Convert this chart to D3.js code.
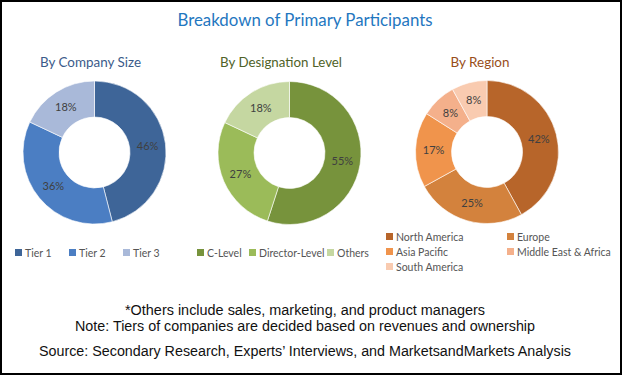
<!DOCTYPE html>
<html>
<head>
<meta charset="utf-8">
<script src="https://d3js.org/d3.v7.min.js"></script>
<style>
  body { margin: 0; background: #fff; }
  svg { display: block; }
  svg { font-family: Lato, "Open Sans", sans-serif; }
</style>
</head>
<body>
<svg width="623" height="376"></svg>
<script>
// Data
var sizeLabels = ["Tier 1", "Tier 2", "Tier 3"];
var sizeValues = [46, 36, 18];
var sizeColors = ["#3e6598", "#4b7ec3", "#a9b9d9"];

var desigLabels = ["C-Level", "Director-Level", "Others"];
var desigValues = [55, 27, 18];
var desigColors = ["#77933c", "#9bbb59", "#c5d7a1"];

var regionLabels = ["North America", "Europe", "Asia Pacific", "Middle East & Africa", "South America"];
var regionValues = [42, 25, 17, 8, 8];
var regionColors = ["#b7652a", "#d3823d", "#f0944c", "#f4b08b", "#f9cbb0"];

var svg = d3.select("svg"),
    width = +svg.attr("width"),
    height = +svg.attr("height");

// frame
svg.append("rect")
    .attr("x", 1).attr("y", 1)
    .attr("width", width - 3).attr("height", height - 3)
    .attr("fill", "none")
    .attr("stroke", "#000")
    .attr("stroke-width", 2);

// main title
svg.append("text")
    .attr("x", 305).attr("y", 26)
    .attr("text-anchor", "middle")
    .attr("font-size", 17)
    .attr("fill", "#1f77c0")
    .attr("textLength", 255)
    .attr("lengthAdjust", "spacingAndGlyphs")
    .text("Breakdown of Primary Participants");

var pie = d3.pie().sort(null).value(function(d) { return d; });
var arc = d3.arc().innerRadius(35.5).outerRadius(71.5);

function donut(cx, cy, title, titleX, titleLen, titleColor, values, colors) {
    svg.append("text")
        .attr("x", titleX).attr("y", 67)
        .attr("text-anchor", "middle")
        .attr("font-size", 14)
        .attr("fill", titleColor)
        .attr("textLength", titleLen)
        .attr("lengthAdjust", "spacingAndGlyphs")
        .text(title);

    var g = svg.append("g").attr("transform", "translate(" + cx + "," + cy + ")");
    var slices = g.selectAll("g.slice")
        .data(pie(values))
        .enter().append("g").attr("class", "slice");

    slices.append("path")
        .attr("d", arc)
        .attr("fill", function(d, i) { return colors[i]; })
        .attr("stroke", "#fff")
        .attr("stroke-width", 0.6);

    slices.append("text")
        .attr("transform", function(d) { return "translate(" + arc.centroid(d) + ")"; })
        .attr("text-anchor", "middle")
        .attr("dy", "0.35em")
        .attr("font-size", 11)
        .attr("fill", "#404040")
        .text(function(d) { return d.data + "%"; });
}

donut(94.5, 152.5, "By Company Size", 90.5, 101, "#3b5b8a", sizeValues, sizeColors);
donut(289.5, 153, "By Designation Level", 281, 122, "#4f6228", desigValues, desigColors);
donut(487, 152, "By Region", 480, 59, "#984e1a", regionValues, regionColors);

// legends
function legend(items, colors, positions) {
    var g = svg.append("g");
    var it = g.selectAll("g").data(items).enter().append("g")
        .attr("transform", function(d, i) { return "translate(" + positions[i][0] + "," + positions[i][1] + ")"; });
    it.append("rect")
        .attr("x", 0).attr("y", -4)
        .attr("width", 7).attr("height", 7)
        .attr("fill", function(d, i) { return colors[i]; });
    it.append("text")
        .attr("x", 10).attr("y", 0)
        .attr("dy", "0.35em")
        .attr("font-size", 10.5)
        .attr("fill", "#555")
        .text(function(d) { return d; });
}

legend(sizeLabels, sizeColors, [[15, 253], [69, 253], [123, 253]]);
legend(desigLabels, desigColors, [[197, 253], [249, 253], [327, 253]]);
legend(regionLabels, regionColors, [[386, 237], [507, 237], [386, 252], [507, 252], [386, 267]]);

// footnotes
var notes = [
    {t: "*Others include sales, marketing, and product managers", y: 315, len: 360},
    {t: "Note: Tiers of companies are decided based on revenues and ownership", y: 331, len: 460},
    {t: "Source: Secondary Research, Experts\u2019 Interviews, and MarketsandMarkets Analysis", y: 356, len: 532}
];
svg.selectAll("text.note").data(notes).enter().append("text")
    .attr("class", "note")
    .attr("x", 305)
    .attr("y", function(d) { return d.y; })
    .attr("text-anchor", "middle")
    .style("font-family", "'Liberation Sans Narrow', 'Liberation Sans', Arial, sans-serif")
    .attr("font-size", 14)
    .attr("fill", "#111")
    .attr("textLength", function(d) { return d.len; })
    .attr("lengthAdjust", "spacingAndGlyphs")
    .text(function(d) { return d.t; });
</script>
</body>
</html>
